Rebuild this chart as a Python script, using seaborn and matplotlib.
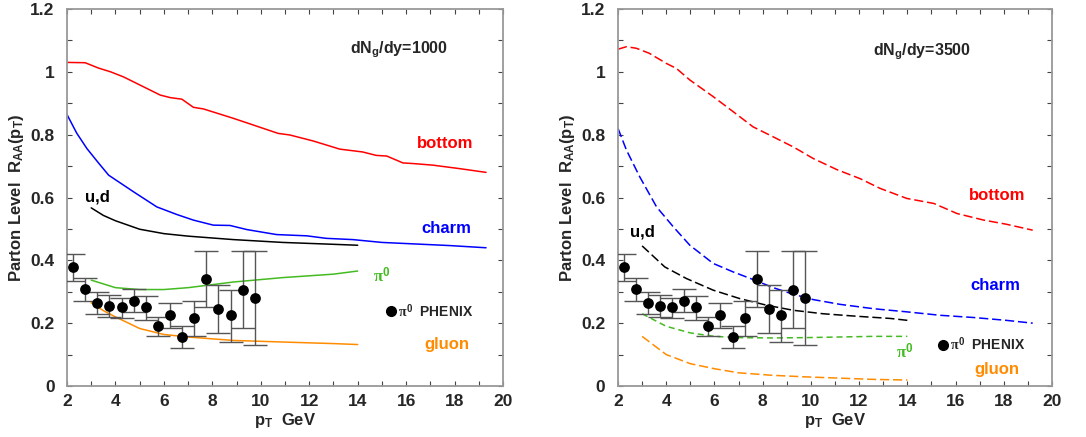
import numpy as np
import pandas as pd
import matplotlib
matplotlib.use("Agg")
import matplotlib.pyplot as plt
import seaborn as sns
from matplotlib.ticker import MultipleLocator

# ---------------- data ----------------
# PHENIX pi0 data (shared by both panels)
phenix_pt = [2.25, 2.75, 3.25, 3.75, 4.25, 4.75, 5.25, 5.75, 6.25, 6.75, 7.25, 7.75, 8.25, 8.75, 9.25, 9.75]
phenix_raa = [0.38, 0.31, 0.265, 0.255, 0.25, 0.27, 0.25, 0.19, 0.225, 0.155, 0.215, 0.34, 0.245, 0.225, 0.305, 0.28]
phenix_hi = [0.42, 0.345, 0.30, 0.29, 0.28, 0.31, 0.285, 0.22, 0.265, 0.19, 0.27, 0.43, 0.32, 0.305, 0.43, 0.43]
phenix_lo = [0.335, 0.27, 0.23, 0.22, 0.215, 0.235, 0.21, 0.16, 0.185, 0.12, 0.16, 0.25, 0.17, 0.14, 0.185, 0.13]

# Left panel: dNg/dy = 1000 (solid)
b1_pt = [2.0, 2.75, 3.3, 3.8, 4.33, 5.3, 5.85, 6.26, 6.74, 7.22, 7.63, 8.87, 10.72, 11.2, 12.16, 13.26, 14.2, 14.77, 15.2, 15.87, 16.3, 17.1, 18.2, 19.3]
b1_raa = [1.030, 1.029, 1.012, 1.0, 0.984, 0.947, 0.926, 0.918, 0.913, 0.887, 0.882, 0.852, 0.804, 0.799, 0.780, 0.754, 0.745, 0.734, 0.732, 0.710, 0.708, 0.703, 0.692, 0.680]
c1_pt = [2.0, 2.4, 2.82, 3.3, 3.72, 4.75, 5.71, 6.53, 7.22, 8.04, 8.73, 9.42, 10.65, 11.9, 12.7, 13.8, 15.0, 16.4, 17.8, 19.3]
c1_raa = [0.864, 0.805, 0.756, 0.710, 0.671, 0.618, 0.570, 0.546, 0.528, 0.512, 0.511, 0.498, 0.482, 0.478, 0.470, 0.466, 0.457, 0.452, 0.447, 0.440]
q1_pt = [3.0, 3.5, 4.0, 5.0, 6.0, 7.0, 8.87, 10.9, 13.0, 14.0]
q1_raa = [0.567, 0.543, 0.526, 0.499, 0.485, 0.477, 0.466, 0.457, 0.451, 0.448]
p1_pt = [3.0, 4.0, 5.0, 6.0, 7.0, 8.87, 10.9, 13.0, 14.0]
p1_raa = [0.337, 0.313, 0.307, 0.307, 0.313, 0.331, 0.345, 0.356, 0.366]
g1_pt = [3.0, 3.5, 4.0, 5.0, 6.0, 7.0, 8.87, 10.9, 13.0, 14.0]
g1_raa = [0.265, 0.240, 0.220, 0.183, 0.164, 0.156, 0.145, 0.140, 0.135, 0.132]

# Right panel: dNg/dy = 3500 (dashed)
b2_pt = [2.0, 2.35, 2.76, 3.3, 4.0, 4.42, 4.98, 5.95, 6.78, 7.6, 8.44, 9.27, 10.1, 11.07, 12.04, 12.87, 13.98, 15.1, 16.06, 17.17, 18.1, 19.2]
b2_raa = [1.072, 1.080, 1.075, 1.059, 1.027, 1.011, 0.974, 0.921, 0.873, 0.825, 0.793, 0.761, 0.724, 0.689, 0.660, 0.629, 0.597, 0.581, 0.549, 0.528, 0.515, 0.496]
c2_pt = [2.0, 2.35, 2.9, 3.6, 4.29, 4.98, 5.95, 6.78, 7.6, 8.44, 9.27, 10.1, 11.2, 12.6, 13.98, 15.37, 16.75, 18.1, 19.2]
c2_raa = [0.820, 0.751, 0.666, 0.570, 0.507, 0.448, 0.390, 0.363, 0.339, 0.313, 0.292, 0.275, 0.260, 0.246, 0.236, 0.225, 0.218, 0.209, 0.200]
q2_pt = [3.0, 3.94, 4.84, 5.95, 7.06, 8.17, 9.27, 10.5, 11.9, 13.3, 14.0]
q2_raa = [0.446, 0.379, 0.342, 0.305, 0.278, 0.257, 0.241, 0.230, 0.222, 0.215, 0.209]
p2_pt = [3.0, 4.0, 5.0, 6.0, 7.0, 8.4, 9.8, 11.2, 12.6, 14.0]
p2_raa = [0.230, 0.190, 0.169, 0.158, 0.154, 0.153, 0.154, 0.156, 0.158, 0.158]
g2_pt = [3.0, 4.0, 5.0, 6.0, 7.0, 8.4, 9.8, 11.2, 12.6, 14.0]
g2_raa = [0.158, 0.100, 0.071, 0.055, 0.042, 0.034, 0.029, 0.025, 0.021, 0.019]

titles = ["dN$_\\mathbf{g}$/dy=1000", "dN$_\\mathbf{g}$/dy=3500"]

# ---------------- style ----------------
sns.set_style("white")
plt.rcParams["font.family"] = ["Liberation Sans", "DejaVu Sans"]
plt.rcParams["font.weight"] = "bold"
plt.rcParams["mathtext.fontset"] = "custom"
plt.rcParams["mathtext.rm"] = "Liberation Sans:bold"
plt.rcParams["mathtext.bf"] = "Liberation Sans:bold"
plt.rcParams["mathtext.it"] = "Liberation Serif"
plt.rcParams["mathtext.sf"] = "Liberation Sans:bold"

RED = "#ff0000"
BLUE = "#0000ff"
BLACK = "#000000"
GREEN = "#44bb22"
ORANGE = "#ff8c00"

fig = plt.figure(figsize=(10.86, 4.37), dpi=100)
axL = fig.add_axes([67 / 1086, 51 / 437, 436 / 1086, 377 / 437])
axR = fig.add_axes([618 / 1086, 51 / 437, 434 / 1086, 377 / 437])


def curve(ax, x, y, color, dashes=None):
    sns.lineplot(x=x, y=y, ax=ax, color=color, lw=1.1, estimator=None, sort=False)
    if dashes is not None:
        ax.lines[-1].set_dashes(dashes)


def phenix(ax):
    y = np.array(phenix_raa)
    yerr = np.vstack([y - np.array(phenix_lo), np.array(phenix_hi) - y])
    ax.errorbar(phenix_pt, phenix_raa, yerr=yerr, fmt="none", ecolor="#555555",
                elinewidth=1.0, capsize=8.5, capthick=1.0, zorder=3)
    sns.scatterplot(x=phenix_pt, y=phenix_raa, ax=ax, color="black", s=60,
                    edgecolor="black", linewidth=0, zorder=4)


def frame(ax):
    ax.set_xlim(2, 20)
    ax.set_ylim(0, 1.2)
    ax.xaxis.set_major_locator(MultipleLocator(2))
    ax.xaxis.set_minor_locator(MultipleLocator(1))
    ax.yaxis.set_major_locator(MultipleLocator(0.2))
    ax.yaxis.set_minor_locator(MultipleLocator(0.1))
    ax.set_xticks([2, 4, 6, 8, 10, 12, 14, 16, 18, 20])
    ax.set_xticklabels(["2", "4", "6", "8", "10", "12", "14", "16", "18", "20"])
    ax.set_yticks([0, 0.2, 0.4, 0.6, 0.8, 1.0, 1.2])
    ax.set_yticklabels(["0", "0.2", "0.4", "0.6", "0.8", "1", "1.2"])
    ax.tick_params(which="both", direction="in", top=True, right=True, bottom=True, left=True,
                   length=3.5, width=0.8, color="#444444", labelsize=12.5)
    ax.tick_params(axis="y", pad=9)
    ax.tick_params(axis="x", pad=6)
    for lab in ax.get_xticklabels() + ax.get_yticklabels():
        lab.set_fontweight("bold")
    for sp in ax.spines.values():
        sp.set_color("#999999")
        sp.set_linewidth(1.3)
        sp.set_visible(True)
    ax.set_xlabel("p$_\\mathbf{T}$  GeV", fontsize=12, fontweight="bold", labelpad=1)
    ax.set_ylabel("Parton Level  R$_\\mathbf{AA}$(p$_\\mathbf{T}$)", fontsize=12,
                  fontweight="bold", labelpad=3)


# Left panel
curve(axL, b1_pt, b1_raa, RED)
curve(axL, c1_pt, c1_raa, BLUE)
curve(axL, q1_pt, q1_raa, BLACK)
curve(axL, p1_pt, p1_raa, GREEN)
curve(axL, g1_pt, g1_raa, ORANGE)
phenix(axL)
frame(axL)
axL.text(15.7, 1.07, titles[0], ha="center", va="center", fontsize=11.5, fontweight="bold")
axL.text(17.63, 0.772, "bottom", color=RED, ha="center", va="center", fontsize=12, fontweight="bold")
axL.text(17.66, 0.501, "charm", color=BLUE, ha="center", va="center", fontsize=12, fontweight="bold")
axL.text(3.25, 0.602, "u,d", color=BLACK, ha="center", va="center", fontsize=12, fontweight="bold")
axL.text(14.98, 0.352, "$\\pi^0$", color=GREEN, ha="center", va="center", fontsize=12)
axL.text(17.7, 0.132, "gluon", color=ORANGE, ha="center", va="center", fontsize=12, fontweight="bold")
axL.plot([15.37], [0.238], "o", color="black", ms=7)
axL.text(15.65, 0.240, "$\\pi^0$  PHENIX", ha="left", va="center", fontsize=10, fontweight="bold")

# Right panel
curve(axR, b2_pt, b2_raa, RED, (6, 2.5))
curve(axR, c2_pt, c2_raa, BLUE, (6, 2.5))
curve(axR, q2_pt, q2_raa, BLACK, (6, 2.5))
curve(axR, p2_pt, p2_raa, GREEN, (4, 2.5))
curve(axR, g2_pt, g2_raa, ORANGE, (6, 2.5))
phenix(axR)
frame(axR)
axR.text(14.6, 1.063, titles[1], ha="center", va="center", fontsize=11.5, fontweight="bold")
axR.text(17.72, 0.605, "bottom", color=RED, ha="center", va="center", fontsize=12, fontweight="bold")
axR.text(17.65, 0.319, "charm", color=BLUE, ha="center", va="center", fontsize=12, fontweight="bold")
axR.text(3.0, 0.49, "u,d", color=BLACK, ha="center", va="center", fontsize=12, fontweight="bold")
axR.text(13.9, 0.108, "$\\pi^0$", color=GREEN, ha="center", va="center", fontsize=12)
axR.text(17.7, 0.053, "gluon", color=ORANGE, ha="center", va="center", fontsize=12, fontweight="bold")
axR.plot([15.46], [0.132], "o", color="black", ms=7)
axR.text(15.75, 0.134, "$\\pi^0$  PHENIX", ha="left", va="center", fontsize=10, fontweight="bold")

fig.savefig("out.png", dpi=100)
